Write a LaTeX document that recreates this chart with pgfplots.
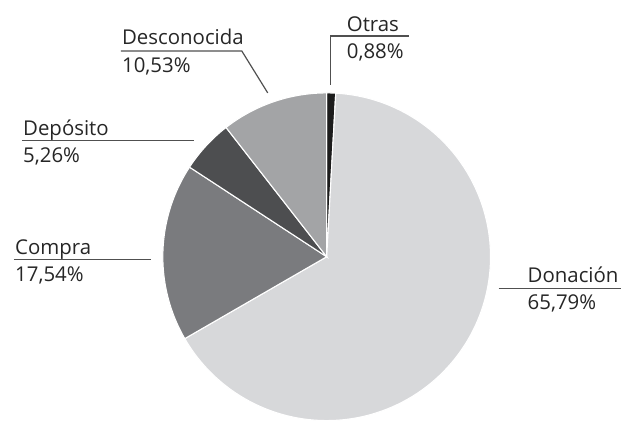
\documentclass[border=0pt]{standalone}
\usepackage{pgfplots}
\pgfplotsset{compat=1.18}
\usepackage{fontspec}
\setmainfont{Open Sans}
\definecolor{cDon}{HTML}{D7D8DA}
\definecolor{cCom}{HTML}{7A7B7E}
\definecolor{cDep}{HTML}{4D4E50}
\definecolor{cDes}{HTML}{A3A4A6}
\definecolor{cOtr}{HTML}{1C1C1C}
\definecolor{txt}{HTML}{262626}
\definecolor{ln}{HTML}{505050}
% percentages
\def\vOtras{0.88}
\def\vDonacion{65.79}
\def\vCompra{17.54}
\def\vDeposito{5.26}
\def\vDesconocida{10.53}
\pgfmathsetmacro\aA{90}
\pgfmathsetmacro\aB{\aA-3.6*\vOtras}
\pgfmathsetmacro\aC{\aB-3.6*\vDonacion}
\pgfmathsetmacro\aD{\aC-3.6*\vCompra}
\pgfmathsetmacro\aE{\aD-3.6*\vDeposito}
\pgfmathsetmacro\aF{\aE-3.6*\vDesconocida}
\tikzset{lab/.style={anchor=base west, font=\fontsize{20.5}{24}\selectfont, text=txt, inner sep=0pt}}
\begin{document}
\begin{tikzpicture}
\begin{axis}[x=1bp,y=1bp,xmin=0,xmax=622,ymin=0,ymax=421,
  hide axis, clip=false, samples=120]
\path (axis cs:0,0) rectangle (axis cs:622,421);
\addplot[fill=cOtr, draw=white, line width=1.1pt, domain=\aB:\aA] ({327+164*cos(x)},{164+164*sin(x)}) -- (axis cs:327,164) -- cycle;
\addplot[fill=cDon, draw=white, line width=1.1pt, domain=\aC:\aB] ({327+164*cos(x)},{164+164*sin(x)}) -- (axis cs:327,164) -- cycle;
\addplot[fill=cCom, draw=white, line width=1.1pt, domain=\aD:\aC] ({327+164*cos(x)},{164+164*sin(x)}) -- (axis cs:327,164) -- cycle;
\addplot[fill=cDep, draw=white, line width=1.1pt, domain=\aE:\aD] ({327+164*cos(x)},{164+164*sin(x)}) -- (axis cs:327,164) -- cycle;
\addplot[fill=cDes, draw=white, line width=1.1pt, domain=\aF:\aE] ({327+164*cos(x)},{164+164*sin(x)}) -- (axis cs:327,164) -- cycle;
% leader lines
\addplot[ln, line width=1.2pt] coordinates {(121,370) (242,370) (268,328)};
\addplot[ln, line width=1.2pt] coordinates {(331,336) (331,385) (409,385)};
\addplot[ln, line width=1.2pt] coordinates {(22,280) (194,280)};
\addplot[ln, line width=1.2pt] coordinates {(14,161) (151,161)};
\addplot[ln, line width=1.2pt] coordinates {(499,132) (622,132)};
% labels
\node[lab] at (axis cs:122,376) {Desconocida};
\node[lab] at (axis cs:122,348) {10,53\%};
\node[lab] at (axis cs:347,389) {Otras};
\node[lab] at (axis cs:347,362) {0,88\%};
\node[lab] at (axis cs:23,285) {Depósito};
\node[lab] at (axis cs:23,258) {5,26\%};
\node[lab] at (axis cs:15,166) {Compra};
\node[lab] at (axis cs:15,139) {17,54\%};
\node[lab] at (axis cs:528,138) {Donación};
\node[lab] at (axis cs:528,111) {65,79\%};
\end{axis}
\end{tikzpicture}
\end{document}
